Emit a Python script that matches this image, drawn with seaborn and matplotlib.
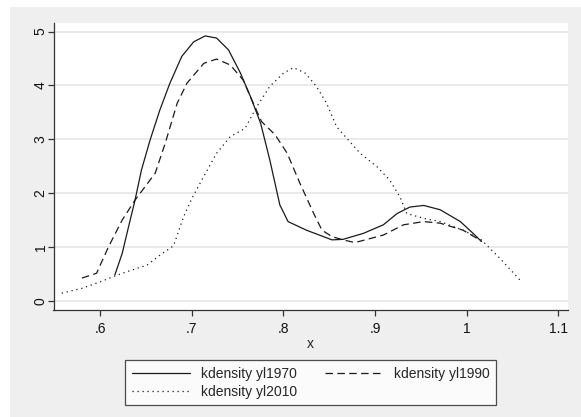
import numpy as np
import pandas as pd
import seaborn as sns
import matplotlib
matplotlib.use('Agg')
import matplotlib.pyplot as plt
from matplotlib.patches import Rectangle

# data (kernel density curves)
x1970 = [0.616, 0.624, 0.631, 0.638, 0.645, 0.6545, 0.665, 0.676, 0.689, 0.702, 0.7145, 0.727,
         0.740, 0.753, 0.764, 0.775, 0.785, 0.796, 0.805, 0.825, 0.853, 0.865, 0.887, 0.909,
         0.924, 0.938, 0.953, 0.971, 0.993, 1.007, 1.016]
y1970 = [0.48, 0.88, 1.38, 1.87, 2.43, 2.99, 3.54, 4.04, 4.54, 4.81, 4.92, 4.88,
         4.66, 4.23, 3.79, 3.30, 2.62, 1.78, 1.47, 1.31, 1.13, 1.14, 1.25, 1.41,
         1.62, 1.74, 1.77, 1.69, 1.47, 1.25, 1.10]

x1990 = [0.580, 0.596, 0.609, 0.624, 0.638, 0.660, 0.671, 0.684, 0.6946, 0.713, 0.727, 0.742,
         0.756, 0.767, 0.776, 0.791, 0.804, 0.818, 0.833, 0.842, 0.853, 0.865, 0.878, 0.909,
         0.931, 0.953, 0.971, 0.996, 1.016]
y1990 = [0.42, 0.51, 1.00, 1.50, 1.87, 2.37, 2.93, 3.67, 4.04, 4.41, 4.49, 4.38,
         4.10, 3.67, 3.33, 3.08, 2.74, 2.18, 1.62, 1.31, 1.19, 1.13, 1.08, 1.22,
         1.41, 1.47, 1.44, 1.31, 1.11]

x2010 = [0.558, 0.580, 0.600, 0.616, 0.6345, 0.651, 0.6655, 0.680, 0.691, 0.700, 0.7127, 0.727,
         0.742, 0.758, 0.771, 0.785, 0.800, 0.811, 0.8236, 0.836, 0.847, 0.858, 0.8836, 0.902,
         0.916, 0.927, 0.9346, 0.953, 0.971, 0.996, 1.016, 1.036, 1.058]
y2010 = [0.14, 0.23, 0.35, 0.46, 0.57, 0.66, 0.85, 1.02, 1.56, 1.90, 2.30, 2.74,
         3.05, 3.20, 3.61, 3.98, 4.23, 4.33, 4.23, 3.98, 3.67, 3.23, 2.74, 2.49,
         2.24, 1.93, 1.62, 1.53, 1.47, 1.31, 1.13, 0.79, 0.385]

names = ['kdensity yl1970', 'kdensity yl1990', 'kdensity yl2010']
xticks = [0.6, 0.7, 0.8, 0.9, 1.0, 1.1]
xticklabels = ['.6', '.7', '.8', '.9', '1', '1.1']
yticks = [0, 1, 2, 3, 4, 5]

df = pd.concat([
    pd.DataFrame({'x': x1970, 'y': y1970, 'series': names[0]}),
    pd.DataFrame({'x': x1990, 'y': y1990, 'series': names[1]}),
    pd.DataFrame({'x': x2010, 'y': y2010, 'series': names[2]}),
])
dash_map = {names[0]: '', names[1]: (6, 3.5), names[2]: (1, 3)}

sns.set_style('ticks')
plt.rcParams['font.family'] = ['Liberation Sans', 'DejaVu Sans']
plt.rcParams['font.size'] = 10

fig = plt.figure(figsize=(5.81, 4.17), dpi=100, facecolor='white')
# stata-like graph region in a background axes
bg = fig.add_axes([0, 0, 1, 1], zorder=-1)
bg.axis('off')
bg.add_patch(Rectangle((10/581, 0), 1 - 10/581, (417-7)/417, transform=bg.transAxes,
                       facecolor='#efefef', edgecolor='none'))
ax = fig.add_axes([53.5/581, (417-310)/417, (568-53.5)/581, (310-23)/417], zorder=1)
ax.set_facecolor('white')

sns.lineplot(data=df, x='x', y='y', style='series', dashes=dash_map,
             color='#1a1a1a', lw=0.9, estimator=None, sort=False, legend=False, ax=ax)

ax.set_xlim(0.549, 1.1105)
ax.set_ylim(-0.173, 5.16)
ax.set_xticks(xticks)
ax.set_xticklabels(xticklabels)
ax.set_yticks(yticks)
for yv in yticks:
    ax.axhline(yv, color='#e8e8e8', lw=1.3, zorder=0)
ax.set_xlabel('x', fontsize=10, labelpad=1)
ax.set_ylabel('')
for s in ['top', 'right']:
    ax.spines[s].set_visible(False)
for s in ['left', 'bottom']:
    ax.spines[s].set_color('#333333')
    ax.spines[s].set_linewidth(0.9)
ax.tick_params(axis='both', length=4.5, width=0.9, color='#333333', labelsize=10, labelcolor='#111111')
ax.tick_params(axis='x', pad=4)
ax.tick_params(axis='y', pad=-0.3)
for t in ax.get_yticklabels():
    t.set_rotation(90)
    t.set_va('center')

# row-major legend: 1970, 1990 / 2010
lines = {n: l for n, l in zip(names, ax.lines[:3])}
order = [names[0], names[2], names[1]]
leg = fig.legend(handles=[lines[n] for n in order], labels=order, ncol=2, loc='center',
                 bbox_to_anchor=(310.8/581, (417-382.8)/417), frameon=True, fancybox=False,
                 handlelength=4.2, handletextpad=0.8, columnspacing=2.0, labelspacing=0.3,
                 borderpad=0.45, fontsize=10)
leg.get_frame().set_edgecolor('#222222')
leg.get_frame().set_linewidth(0.9)

fig.savefig('out.png', dpi=100, facecolor='white')
